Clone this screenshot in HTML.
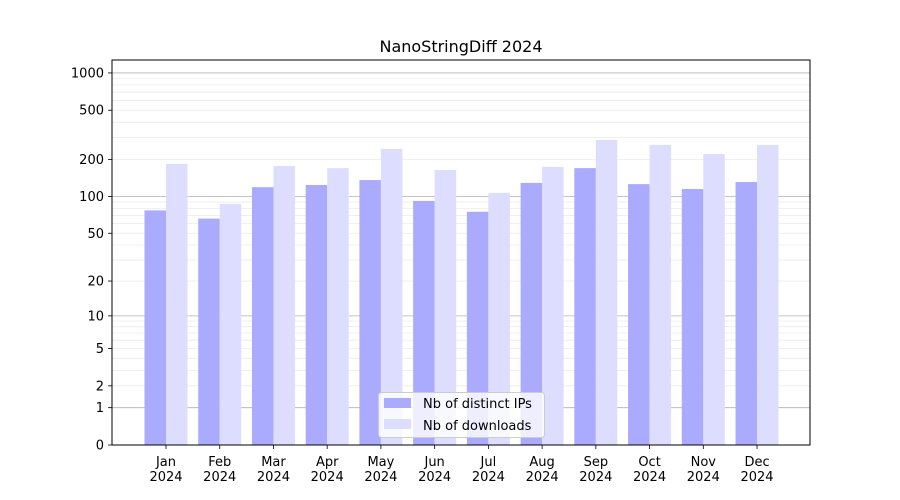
<!DOCTYPE html><html><head><style>body{margin:0;background:#fff}svg{display:block}text{font-family:"DejaVu Sans","Liberation Sans",sans-serif;fill:#000}</style></head><body>
<svg id="s" width="900" height="500" xmlns="http://www.w3.org/2000/svg"></svg>
<script>
const s=document.getElementById('s');let h='';
const Y=v=>445-124*Math.log10(v+1);
h+='<rect x="112" y="60" width="698" height="385" fill="#fff"/>';
// grid
const decs=[1,10,100,1000];
for(const d of decs){for(let k=1;k<10;k++){const v=d*k;if(v>1300)break;const y=Y(v);if(y<60)continue;
h+=`<line x1="112" x2="810" y1="${y}" y2="${y}" stroke="${k==1?'#b0b0b0':'#ebebeb'}" stroke-width="${k==1?0.8:0.8}"/>`;}}
const m=['Jan','Feb','Mar','Apr','May','Jun','Jul','Aug','Sep','Oct','Nov','Dec'];
const a=[77,66,119,124,136,92,75,129,170,126,115,131];
const b=[184,87,177,170,243,164,107,174,287,262,221,262];
for(let i=0;i<12;i++){const c=166+i*53.73;
h+=`<rect x="${c-21.5}" y="${Y(a[i])}" width="21.5" height="${445-Y(a[i])}" fill="#aaaaff"/>`;
h+=`<rect x="${c}" y="${Y(b[i])}" width="21.5" height="${445-Y(b[i])}" fill="#ddddff"/>`;
h+=`<line x1="${c}" x2="${c}" y1="445" y2="449" stroke="#000" stroke-width="0.8"/>`;
h+=`<text x="${c}" y="466" font-size="13" text-anchor="middle">${m[i]}</text><text x="${c}" y="481" font-size="13" text-anchor="middle">2024</text>`;}
for(const v of [0,1,2,5,10,20,50,100,200,500,1000]){const y=Y(v);
h+=`<line x1="108" x2="112" y1="${y}" y2="${y}" stroke="#000" stroke-width="0.8"/><text x="104" y="${y+4.5}" font-size="13" text-anchor="end">${v}</text>`;}
h+='<rect x="112" y="60" width="698" height="385" fill="none" stroke="#000" stroke-width="1"/>';
h+='<text x="461" y="52" font-size="16" text-anchor="middle">NanoStringDiff 2024</text>';
h+='<rect x="378.5" y="392.5" width="166" height="45" rx="3" fill="#fff" fill-opacity="0.8" stroke="#ccc"/>';
h+='<rect x="384" y="398" width="27" height="10" fill="#aaaaff"/><text x="423" y="408" font-size="13">Nb of distinct IPs</text>';
h+='<rect x="384" y="419" width="27" height="10" fill="#ddddff"/><text x="423" y="430" font-size="13">Nb of downloads</text>';
s.innerHTML=h;
</script></body></html>
